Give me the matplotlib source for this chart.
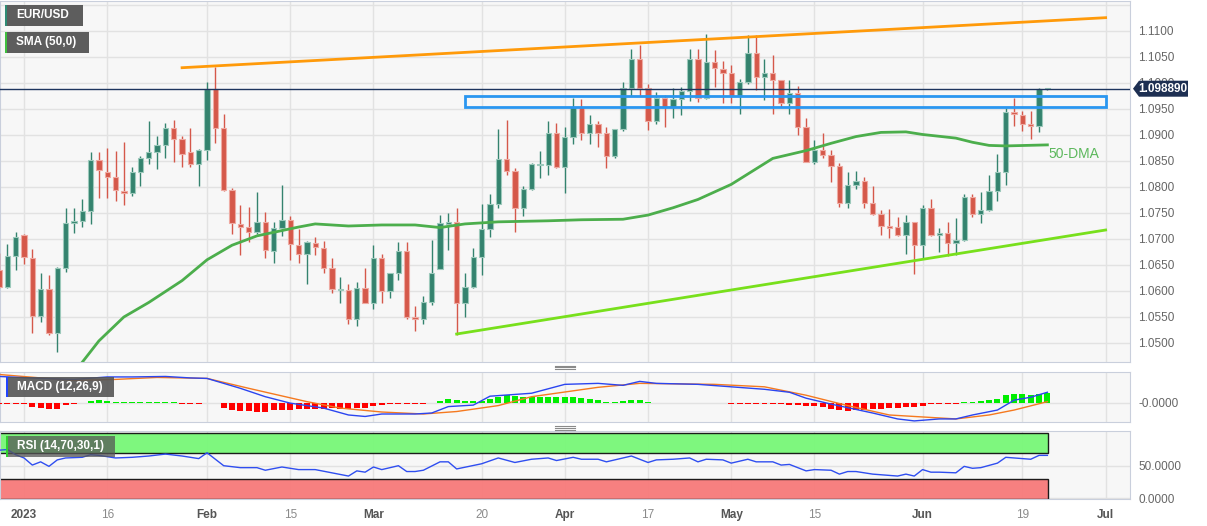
import numpy as np
import matplotlib
matplotlib.use("Agg")
import matplotlib.pyplot as plt
from matplotlib.patches import Rectangle, Polygon
from matplotlib.lines import Line2D

plt.rcParams["font.family"] = ["Liberation Sans", "DejaVu Sans"]

W, H = 1207, 526

# trading days counted from Jan 2 2023 (weekdays only)
first_day = -3
opens = [1.0640, 1.0608, 1.0667, 1.0707, 1.0664, 1.0551, 1.0603, 1.0519, 1.0645, 1.0730,
         1.0735, 1.0753, 1.0851, 1.0829, 1.0820, 1.0792, 1.0789, 1.0829, 1.0855, 1.0867,
         1.0881, 1.0913, 1.0892, 1.0868, 1.0845, 1.0871, 1.0988, 1.0913, 1.0794, 1.0728,
         1.0724, 1.0713, 1.0733, 1.0677, 1.0722, 1.0737, 1.0689, 1.0672, 1.0692, 1.0683,
         1.0645, 1.0602, 1.0602, 1.0547, 1.0606, 1.0576, 1.0664, 1.0600, 1.0634, 1.0677,
         1.0550, 1.0547, 1.0578, 1.0642, 1.0729, 1.0732, 1.0576, 1.0608, 1.0665, 1.0719,
         1.0767, 1.0854, 1.0831, 1.0759, 1.0797, 1.0843, 1.0843, 1.0904, 1.0839, 1.0896,
         1.0953, 1.0903, 1.0922, 1.0903, 1.0860, 1.0911, 1.0990, 1.1046, 1.0991, 1.0926,
         1.0972, 1.0954, 1.0970, 1.0985, 1.1046, 1.0972, 1.1041, 1.1026, 1.1019, 1.0975,
         1.1001, 1.1058, 1.1012, 1.1020, 1.1006, 1.0962, 1.0981, 1.0915, 1.0848, 1.0872,
         1.0862, 1.0840, 1.0770, 1.0803, 1.0812, 1.0770, 1.0749, 1.0725, 1.0723, 1.0707,
         1.0733, 1.0688, 1.0760, 1.0707, 1.0712, 1.0693, 1.0698, 1.0781, 1.0749, 1.0755,
         1.0792, 1.0828, 1.0944, 1.0938, 1.0922, 1.0917, 1.0989]
highs = [1.0674, 1.0690, 1.0714, 1.0709, 1.0681, 1.0635, 1.0630, 1.0647, 1.0759, 1.0759,
         1.0776, 1.0867, 1.0867, 1.0875, 1.0869, 1.0886, 1.0839, 1.0860, 1.0927, 1.0899,
         1.0924, 1.0929, 1.0899, 1.0913, 1.0874, 1.1002, 1.1031, 1.0940, 1.0799, 1.0765,
         1.0761, 1.0790, 1.0752, 1.0733, 1.0803, 1.0744, 1.0719, 1.0696, 1.0703, 1.0697,
         1.0663, 1.0627, 1.0613, 1.0618, 1.0645, 1.0689, 1.0672, 1.0635, 1.0694, 1.0694,
         1.0572, 1.0590, 1.0699, 1.0747, 1.0750, 1.0759, 1.0634, 1.0683, 1.0767, 1.0787,
         1.0912, 1.0929, 1.0837, 1.0801, 1.0847, 1.0869, 1.0926, 1.0924, 1.0916, 1.0972,
         1.0969, 1.0938, 1.0927, 1.0916, 1.0911, 1.1001, 1.1066, 1.1074, 1.0999, 1.0983,
         1.0976, 1.0990, 1.0992, 1.1066, 1.1066, 1.1094, 1.1063, 1.1042, 1.1035, 1.1007,
         1.1092, 1.1092, 1.1047, 1.1054, 1.1006, 1.1006, 1.0994, 1.0933, 1.0890, 1.0903,
         1.0872, 1.0847, 1.0829, 1.0831, 1.0820, 1.0802, 1.0755, 1.0757, 1.0743, 1.0746,
         1.0733, 1.0766, 1.0777, 1.0722, 1.0733, 1.0740, 1.0787, 1.0786, 1.0790, 1.0824,
         1.0863, 1.0951, 1.0972, 1.0946, 1.0946, 1.0990, 1.0991]
lows = [1.0606, 1.0605, 1.0640, 1.0651, 1.0519, 1.0540, 1.0515, 1.0482, 1.0637, 1.0711,
        1.0724, 1.0729, 1.0779, 1.0779, 1.0774, 1.0765, 1.0783, 1.0801, 1.0845, 1.0834,
        1.0856, 1.0849, 1.0838, 1.0838, 1.0801, 1.0851, 1.0884, 1.0793, 1.0709, 1.0669,
        1.0695, 1.0710, 1.0664, 1.0654, 1.0705, 1.0659, 1.0653, 1.0613, 1.0670, 1.0635,
        1.0596, 1.0576, 1.0536, 1.0533, 1.0576, 1.0565, 1.0576, 1.0587, 1.0621, 1.0546,
        1.0524, 1.0537, 1.0573, 1.0642, 1.0678, 1.0515, 1.0550, 1.0605, 1.0631, 1.0704,
        1.0759, 1.0824, 1.0713, 1.0744, 1.0794, 1.0817, 1.0823, 1.0836, 1.0788, 1.0882,
        1.0890, 1.0883, 1.0877, 1.0836, 1.0855, 1.0908, 1.0975, 1.0975, 1.0909, 1.0922,
        1.0916, 1.0932, 1.0938, 1.0965, 1.0963, 1.0970, 1.0992, 1.0961, 1.0961, 1.0941,
        1.0999, 1.0986, 1.0967, 1.0940, 1.0954, 1.0941, 1.0900, 1.0848, 1.0844, 1.0856,
        1.0810, 1.0762, 1.0760, 1.0796, 1.0759, 1.0747, 1.0707, 1.0701, 1.0706, 1.0672,
        1.0633, 1.0661, 1.0706, 1.0675, 1.0667, 1.0669, 1.0696, 1.0742, 1.0731, 1.0753,
        1.0773, 1.0803, 1.0917, 1.0908, 1.0893, 1.0905, 1.0987]
closes = [1.0608, 1.0667, 1.0704, 1.0665, 1.0551, 1.0603, 1.0519, 1.0645, 1.0730, 1.0735,
          1.0753, 1.0851, 1.0832, 1.0820, 1.0794, 1.0788, 1.0828, 1.0855, 1.0867, 1.0881,
          1.0913, 1.0892, 1.0864, 1.0845, 1.0871, 1.0988, 1.0913, 1.0794, 1.0730, 1.0724,
          1.0713, 1.0733, 1.0679, 1.0722, 1.0737, 1.0690, 1.0672, 1.0694, 1.0685, 1.0645,
          1.0603, 1.0603, 1.0547, 1.0606, 1.0576, 1.0664, 1.0600, 1.0634, 1.0677, 1.0550,
          1.0547, 1.0578, 1.0635, 1.0730, 1.0733, 1.0576, 1.0608, 1.0665, 1.0719, 1.0767,
          1.0854, 1.0831, 1.0759, 1.0797, 1.0844, 1.0844, 1.0904, 1.0839, 1.0896, 1.0953,
          1.0903, 1.0922, 1.0903, 1.0860, 1.0911, 1.0990, 1.1046, 1.0991, 1.0926, 1.0972,
          1.0954, 1.0970, 1.0985, 1.1046, 1.0972, 1.1041, 1.1028, 1.1019, 1.0975, 1.1001,
          1.1058, 1.1012, 1.1020, 1.1006, 1.0962, 1.0981, 1.0915, 1.0848, 1.0872, 1.0862,
          1.0840, 1.0770, 1.0803, 1.0812, 1.0770, 1.0749, 1.0725, 1.0722, 1.0707, 1.0733,
          1.0688, 1.0760, 1.0707, 1.0711, 1.0693, 1.0698, 1.0781, 1.0749, 1.0755, 1.0792,
          1.0828, 1.0944, 1.0940, 1.0922, 1.0917, 1.0988, 1.0989]

tick_days = [0, 10, 22, 32, 42, 55, 65, 75, 85, 95, 108, 120, 130]
tick_labels = ["2023", "16", "Feb", "15", "Mar", "20", "Apr", "17", "May", "15", "Jun", "19", "Jul"]
bold_labels = ["2023", "Feb", "Mar", "Apr", "May", "Jun", "Jul"]

sma_days = [7, 9, 12, 15, 19, 22, 25, 28, 33, 35, 39, 43, 47, 50, 53, 57, 63, 67, 72, 75,
            78, 81, 85, 87, 90, 94, 97, 100, 103, 106, 108, 112, 114, 116, 118, 123]
sma_vals = [1.0463, 1.0504, 1.0550, 1.0578, 1.0620, 1.0660, 1.0688, 1.0706, 1.0723, 1.0729,
            1.0725, 1.0727, 1.0727, 1.0722, 1.0729, 1.0733, 1.0735, 1.0737, 1.0738, 1.0746,
            1.0760, 1.0776, 1.0805, 1.0825, 1.0855, 1.0870, 1.0884, 1.0897, 1.0905, 1.0906,
            1.0901, 1.0894, 1.0886, 1.0880, 1.0879, 1.0881]

resistance_days = [19, 130]
resistance_vals = [1.10294, 1.11256]
support_days = [52, 130]
support_vals = [1.05173, 1.07173]
zone_days = [53, 130]
zone_vals = [1.09544, 1.09756]
last_price = 1.098890

# MACD in units of 1e-4
macd_days = [-3, 2, 6, 10, 13, 17, 20, 22, 23, 26, 29, 32, 36, 39, 41, 43, 47, 49, 51, 54,
             56, 61, 65, 69, 72, 74, 76, 81, 85, 89, 92, 94, 97, 102, 105, 107, 110, 112,
             114, 117, 119, 121, 123]
macd_vals = [53, 49, 47, 52, 52, 53, 50, 49, 44, 29, 12, -1, -11, -25, -28, -23, -23, -21,
             -8, -5, 13, 19, 37, 39, 35, 43, 39, 37, 32, 27, 21, 9, -3, -21, -33, -37, -33,
             -33, -25, -15, 5, 11, 21]
signal_days = [-3, 2, 6, 11, 16, 22, 27, 34, 38, 43, 48, 52, 57, 61, 69, 74, 83, 89, 94, 99,
               104, 110, 112, 116, 119, 123]
signal_vals = [57, 50, 45, 47, 51, 49, 29, 2, -11, -19, -23, -18, -6, 12, 31, 39, 37, 32, 15,
               -6, -25, -31, -33, -25, -15, 2]
hist_vals = [-2, -2, -2, -2,
             -8, -10, -13, -12, -4, -2, -1,
             4, 5, 4,
             2, 2, 2, 2, 2, 2, 2, 2,
             -2, -2, -2, -1, -1,
             -11, -15, -16, -17, -19, -18, -15,
             -15, -14, -13, -13, -12, -12, -11, -13, -12, -11, -10,
             -7, -5, -3.4, -3.4, -2.6, -2.6, -2, -1,
             2.6, 6.6, 5.4, 4, 4, 4, 6.6, 12, 15, 13,
             12, 12, 12, 11, 11, 10.6, 10.6, 9, 7.4, 5.4,
             2, 2, 3, 6, 6, 2,
             -1, -1, -1, -1, -1, -1, -1, -1, -1,
             -2, -2, -2, -2, -2, -2, -2,
             -4, -5, -6, -7, -9, -12,
             -14, -16, -14, -14, -13, -12, -11,
             -10, -9, -8, -6,
             -3, -3, -2.4, -2,
             1.6, 2, 3, 5,
             8, 15, 17, 17, 16, 18, 19]

rsi_days = [-3, -2, -1, 0, 1, 2, 3, 4, 5, 7, 8, 9, 11, 13, 15, 17, 19, 21, 22, 24, 26, 28,
            29, 31, 33, 35, 37, 39, 40, 41, 42, 43, 45, 46, 47, 48, 50, 51, 52, 55, 57, 59,
            61, 63, 64, 66, 67, 69, 70, 73, 75, 76, 78, 80, 81, 82, 84, 85, 87, 88, 90, 91,
            92, 94, 95, 97, 98, 99, 100, 102, 105, 106, 107, 108, 109, 110, 112, 113, 114,
            115, 117, 118, 119, 121, 122, 123]
rsi_vals = [74, 75, 67, 62, 51, 56, 49, 59, 62, 63, 67, 66, 62, 63, 65, 68, 65, 61, 70, 50,
            47, 47, 43, 48, 44, 44, 39, 34, 42, 40, 48, 44, 50, 41, 41, 43, 56, 56, 45, 53,
            62, 55, 60, 62, 58, 63, 60, 60, 56, 65, 55, 59, 60, 62, 56, 60, 59, 54, 60, 56,
            56, 51, 52, 42, 44, 43, 37, 41, 41, 37, 34, 37, 34, 44, 40, 40, 39, 49, 46, 47,
            54, 63, 62, 60, 66, 66]

days = np.arange(first_day, first_day + len(opens))
o, hi, lo, c = map(np.array, (opens, highs, lows, closes))


def rect(x0, y0, x1, y1):
    return [x0 / W, 1 - y1 / H, (x1 - x0) / W, (y1 - y0) / H]


def fx(x):
    return x / W


def fy(y):
    return 1 - y / H


bg = "#f7f7f7"
grid_c = "#e2e2e2"
spine_c = "#c9cfdc"
label_c = "#666666"

fig = plt.figure(figsize=(W / 100, H / 100), dpi=100)
ax = fig.add_axes(rect(0, 1, 1130, 362))
ax_macd = fig.add_axes(rect(0, 372, 1130, 422), sharex=ax)
ax_rsi = fig.add_axes(rect(0, 431, 1130, 499), sharex=ax)

for a in (ax, ax_macd, ax_rsi):
    a.set_facecolor(bg)
    for s in a.spines.values():
        s.set_color(spine_c)
    a.yaxis.tick_right()
    a.tick_params(axis="y", length=0, pad=6, labelsize=8.5, labelcolor=label_c)
    a.tick_params(axis="x", length=0)
    a.set_xticks(tick_days)
    a.grid(True, color=grid_c, lw=1, zorder=0)
    a.set_axisbelow(True)

ax.set_xlim(-2.885, 132.93)

# ---- main price panel
ax.set_ylim(1.046346, 1.115769)
ax.set_yticks(np.round(np.arange(1.05, 1.1101, 0.005), 4))
ax.set_yticklabels([f"{v:.4f}" for v in np.arange(1.05, 1.1101, 0.005)])
ax.axhline(1.115, color=grid_c, lw=1, zorder=0)
ax.tick_params(axis="x", labelbottom=False)

up = c >= o
body_lo = np.minimum(o, c)
body_h = np.maximum(np.abs(c - o), 0.00012)
green, red = "#34836e", "#d5584a"
colors = np.where(up, green, red)
edges = np.where(up, "#9cc9bb", "#eeaaa2")
ax.vlines(days, lo, hi, colors=colors, lw=1, zorder=3)
ax.bar(days, body_h, bottom=body_lo, width=0.64, color=colors, edgecolor=edges,
       lw=0.8, zorder=4)

ax.plot(sma_days, sma_vals, color="#4cae4c", lw=2, zorder=5)
ax.plot(resistance_days, resistance_vals, color="#ff9a0a", lw=2, zorder=5)
ax.plot(support_days, support_vals, color="#78e01c", lw=2, zorder=5)
ax.add_patch(Rectangle((zone_days[0], zone_vals[0]), zone_days[1] - zone_days[0],
                       zone_vals[1] - zone_vals[0], fill=False, edgecolor="#2a96f0",
                       lw=2, zorder=6))
ax.axhline(last_price, color="#1d355e", lw=1, zorder=6)
ax.text(123.1, 1.0863, "50-DMA", color="#5cb85c", fontsize=10, va="center",
        ha="left", zorder=7)

# ---- MACD panel
ax_macd.set_ylim(-39.2, 62)
ax_macd.set_yticks([0])
ax_macd.set_yticklabels(["-0.0000"])
ax_macd.tick_params(axis="x", labelbottom=False)
hist = np.array(hist_vals, dtype=float)
hcol = []
for v in hist:
    if v >= 0:
        hcol.append("#00ee00" if v > 1.2 else "#9df59d")
    else:
        hcol.append("#ff0000" if v < -1.2 else "#ffb3b3")
ax_macd.bar(days, hist, width=0.72, color=hcol, zorder=3)
ax_macd.plot(signal_days, signal_vals, color="#f5791f", lw=1, zorder=4)
ax_macd.plot(macd_days, macd_vals, color="#2b45f0", lw=1, zorder=5)

# ---- RSI panel
ax_rsi.set_ylim(-1.5, 103.7)
ax_rsi.set_yticks([0, 50])
ax_rsi.set_yticklabels(["0.0000", "50.0000"])
ax_rsi.add_patch(Rectangle((-3.5, 70), 126.6, 30.6, facecolor="#78f878", edgecolor="#111111",
                           lw=1, alpha=0.95, zorder=2))
ax_rsi.add_patch(Rectangle((-3.5, -1.5), 126.6, 31.5, facecolor="#f87a7a", edgecolor="#111111",
                           lw=1, alpha=0.95, zorder=2))
ax_rsi.plot(rsi_days, rsi_vals, color="#2f4ef0", lw=1, zorder=4)
ax_rsi.set_xticklabels(tick_labels)
ax_rsi.tick_params(axis="x", pad=7, labelsize=8.5)
for t in ax_rsi.get_xticklabels():
    if t.get_text() in bold_labels:
        t.set_fontweight("bold")
        t.set_color("#555555")
    else:
        t.set_color("#8a8a8a")

# ---- overlay boxes
def tag(x0, y0, x1, y1, text, accent, alpha=0.95):
    fig.patches.append(Rectangle((fx(x0), fy(y1)), fx(x1) - fx(x0), fy(y0) - fy(y1),
                                 transform=fig.transFigure, facecolor="#555555",
                                 alpha=alpha, zorder=10))
    fig.patches.append(Rectangle((fx(x0), fy(y1)), fx(2.2), fy(y0) - fy(y1),
                                 transform=fig.transFigure, facecolor=accent, zorder=11))
    fig.text(fx(x0 + 11), fy((y0 + y1) / 2), text, color="white", fontsize=8.5,
             fontweight="bold", va="center", ha="left", zorder=12)


tag(5, 5, 83, 26, "EUR/USD", "#2e8b74")
tag(5, 32, 89, 53, "SMA (50,0)", "#3fbf3f")
tag(6, 377, 114, 397, "MACD (12,26,9)", "#2244ff", alpha=0.9)
tag(6, 436, 115, 457, "RSI (14,70,30,1)", "#2fd02f", alpha=0.75)

# current price flag
flag = [(1133, 88.7), (1139, 80.7), (1188, 80.7), (1188, 96.7), (1139, 96.7)]
fig.patches.append(Polygon([(fx(x), fy(y)) for x, y in flag], closed=True,
                           transform=fig.transFigure, facecolor="#1d2f52", zorder=10))
fig.text(fx(1163), fy(88.7), f"{last_price:.6f}", color="white", fontsize=8.5,
         fontweight="bold", ha="center", va="center", zorder=12)

# panel drag handles
for yy in (365.5, 367.3, 369.1, 425.9, 427.7, 429.5):
    fig.add_artist(Line2D([fx(555), fx(575)], [fy(yy), fy(yy)], color="#8a8a8a", lw=0.8))

fig.savefig("out.png", dpi=100, facecolor="white")
